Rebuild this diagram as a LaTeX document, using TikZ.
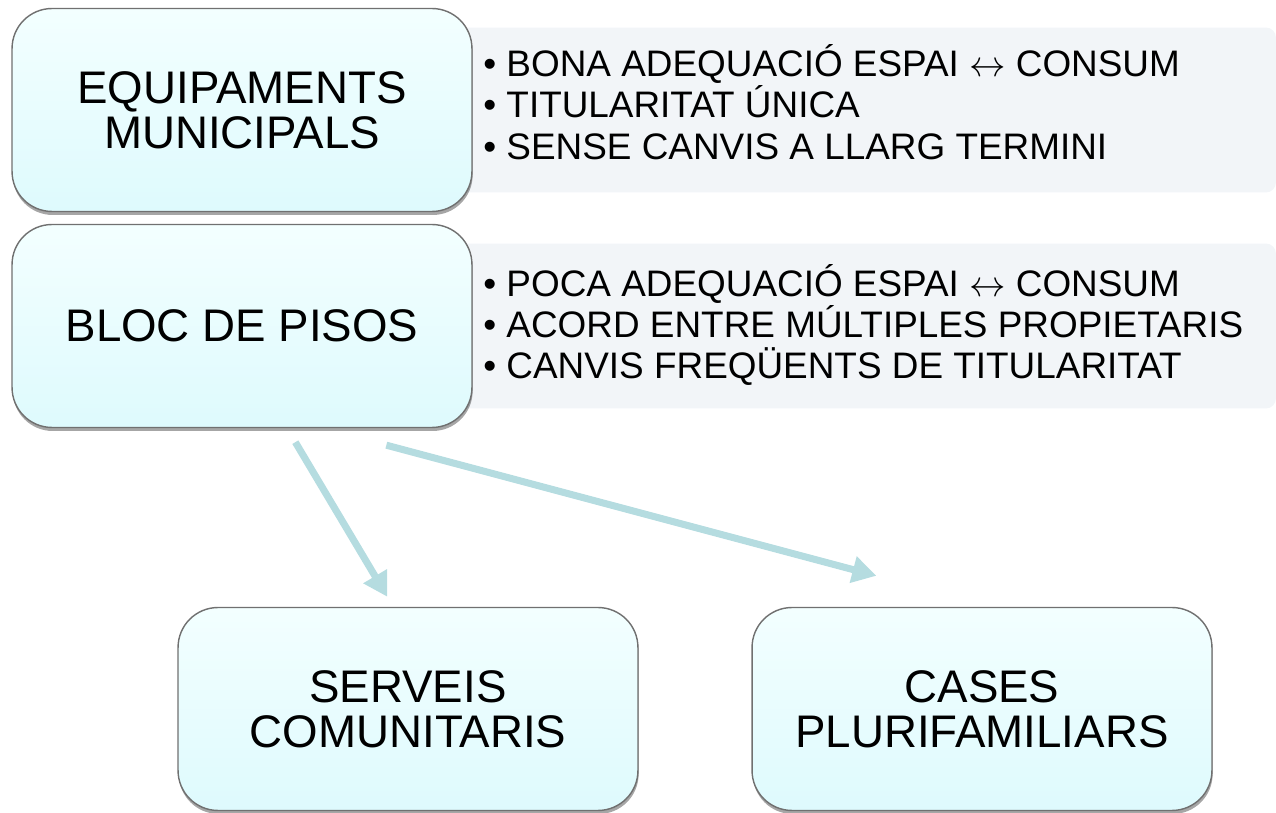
\documentclass[tikz,border=0pt]{standalone}
\usepackage{fontspec}
\setmainfont{Liberation Sans}
\usetikzlibrary{calc,shadows,arrows.meta}

\definecolor{boxtop}{RGB}{243,255,255}
\definecolor{boxbot}{RGB}{222,250,253}
\definecolor{boxline}{RGB}{112,112,112}
\definecolor{panelfill}{RGB}{242,245,248}
\definecolor{flowcol}{RGB}{181,220,224}

\tikzset{
	mainbox/.style={draw=boxline, line width=0.8pt, rounded corners=0.8cm,
		top color=boxtop, bottom color=boxbot,
		minimum width=9.2cm, minimum height=4.06cm, align=center,
		font=\fontsize{26}{25.5}\selectfont,
		drop shadow={shadow xshift=0.4pt, shadow yshift=-2pt, opacity=0.35, fill=black}},
	panel/.style={fill=panelfill, rounded corners=0.2cm,
		minimum width=16.92cm, minimum height=3.3cm},
	points/.style={anchor=west, align=left, inner sep=0pt,
		font=\fontsize{21}{23.6}\selectfont},
	flow/.style={draw=flowcol, line width=4pt,
		-{Triangle[length=0.48cm,width=0.52cm]}}
}

\begin{document}
\begin{tikzpicture}[x=0.02cm, y=-0.02cm]
	\useasboundingbox (0,0) rectangle (1276,813);
	% side panels with the key points
	\node[panel] (equippanel) at (853,110) {};
	\node[panel] (blocpanel) at (853,326) {};
	\node[points] (equippoints) at (483,102)
		{• BONA ADEQUACIÓ ESPAI $\leftrightarrow$ CONSUM\\
		 • TITULARITAT ÚNICA\\
		 • SENSE CANVIS A LLARG TERMINI};
	\node[points] (blocpoints) at (483,325)
		{• POCA ADEQUACIÓ ESPAI $\leftrightarrow$ CONSUM\\
		 • ACORD ENTRE MÚLTIPLES PROPIETARIS\\
		 • CANVIS FREQÜENTS DE TITULARITAT};
	% main boxes
	\node[mainbox] (equip) at (242,110) {EQUIPAMENTS\\MUNICIPALS};
	\node[mainbox] (bloc) at (242,326) {BLOC DE PISOS};
	\node[mainbox] (serveis) at (408,709) {SERVEIS\\COMUNITARIS};
	\node[mainbox] (cases) at (982,709) {CASES\\PLURIFAMILIARS};
	% arrows
	\coordinate (serveisfrom) at ($(bloc.south west)+(284,14)$);
	\coordinate (serveisto) at ($(serveis.north west)+(210,-10)$);
	\coordinate (casesfrom) at ($(bloc.south west)+(375,17)$);
	\coordinate (casesto) at ($(cases.north west)+(125,-31)$);
	\draw[flow] (serveisfrom) -- (serveisto);
	\draw[flow] (casesfrom) -- (casesto);
\end{tikzpicture}
\end{document}
